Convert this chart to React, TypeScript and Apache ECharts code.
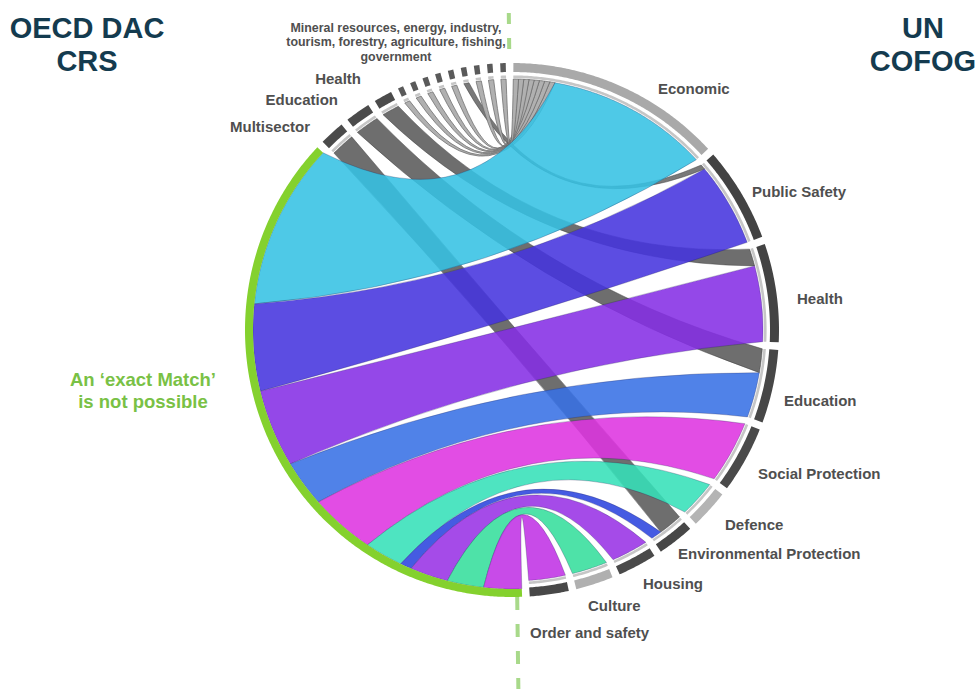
import React, { useEffect, useRef } from "react";
import * as echarts from "echarts";

// ---------------- data ----------------
const cofogNodes = [
  "Economic",
  "Public Safety",
  "Health",
  "Education",
  "Social Protection",
  "Defence",
  "Environmental Protection",
  "Housing",
  "Culture",
  "Order and safety",
];
const crsNodes = [
  "An ‘exact Match’ is not possible",
  "Multisector",
  "Education",
  "Health",
  "Mineral resources",
  "Energy",
  "Industry",
  "Tourism",
  "Forestry",
  "Agriculture",
  "Fishing",
  "Government",
  "Other",
];
// ribbons from "An ‘exact Match’ is not possible" to each COFOG function
const exactMatchValues = [37.5, 19.5, 17.5, 10.5, 14.5, 8.5, 2.5, 8.5, 8.2, 8.5];
// ribbons from CRS sectors to COFOG functions
const sectorLinkSources = [
  "Multisector",
  "Education",
  "Health",
  "Mineral resources",
  "Energy",
  "Industry",
  "Tourism",
  "Forestry",
  "Agriculture",
  "Fishing",
  "Government",
  "Other",
];
const sectorLinkTargets = [
  "Environmental Protection",
  "Education",
  "Health",
  "Economic",
  "Economic",
  "Economic",
  "Economic",
  "Economic",
  "Public Safety",
  "Economic",
  "Economic",
  "Economic",
];
const sectorLinkValues = [5.5, 5.5, 4, 1.2, 1.2, 1.2, 1.2, 1.2, 1.2, 1.2, 1.2, 1.2];

// ---------------- styles ----------------
const exactMatchColors = [
  "#36c2e4",
  "#4634de",
  "#852fe5",
  "#3871e5",
  "#de34e0",
  "#36e0b8",
  "#2b44de",
  "#9932e5",
  "#36de9c",
  "#c032e5",
];
const cofogBandColors = [
  "#a9a9a9",
  "#434343",
  "#434343",
  "#474747",
  "#4a4a4a",
  "#b4b4b4",
  "#474747",
  "#4a4a4a",
  "#b0b0b0",
  "#484848",
];
const crsBandColors = [
  "#84d12e",
  "#4b4b4b",
  "#4b4b4b",
  "#4b4b4b",
  "#5a5a5a",
  "#5a5a5a",
  "#5a5a5a",
  "#5a5a5a",
  "#5a5a5a",
  "#5a5a5a",
  "#5a5a5a",
  "#5a5a5a",
  "#5a5a5a",
];

const FONT = '"Liberation Sans", Arial, Helvetica, sans-serif';
const LABEL_GRAY = "#4f4f4f";

const cofogLabelPos: [number, number][] = [
  [658, 88],
  [752, 191],
  [797, 298],
  [784, 400],
  [758, 473],
  [725, 524],
  [678, 553],
  [643, 583],
  [588, 605],
  [530, 632],
];

// ---------------- layout ----------------
type Ribbon = {
  s: number;
  t: number;
  v: number;
  fill: string;
  stroke: string;
  lw: number;
  op: number;
  layer: number;
  sa0: number;
  sa1: number;
  ta0: number;
  ta1: number;
};

const NR = cofogNodes.length;
const NODE_COUNT = NR + crsNodes.length;
const GREEN = NR;
const PAD = 1.65;
const START = 0.3;

function buildLayout() {
  const ribbons: Ribbon[] = [];
  sectorLinkSources.forEach((src, i) => {
    const s = NR + crsNodes.indexOf(src);
    const t = cofogNodes.indexOf(sectorLinkTargets[i]);
    const small = i >= 3;
    const light = small && sectorLinkTargets[i] === "Economic";
    ribbons.push({
      s,
      t,
      v: sectorLinkValues[i],
      fill: light ? "#acacac" : small ? "#6a6a6a" : "#5e5e5e",
      stroke: light ? "#6c6c6c" : "#3a3a3a",
      lw: light ? 0.8 : 0.5,
      op: light ? 0.95 : 0.9,
      layer: 0,
      sa0: 0,
      sa1: 0,
      ta0: 0,
      ta1: 0,
    });
  });
  exactMatchValues.forEach((v, i) => {
    ribbons.push({
      s: GREEN,
      t: i,
      v,
      fill: exactMatchColors[i],
      stroke: "rgba(30,30,80,0.5)",
      lw: 0.6,
      op: 0.88,
      layer: 1,
      sa0: 0,
      sa1: 0,
      ta0: 0,
      ta1: 0,
    });
  });

  const nodeVal = new Array(NODE_COUNT).fill(0);
  ribbons.forEach((r) => {
    nodeVal[r.s] += r.v;
    nodeVal[r.t] += r.v;
  });
  const nodeStart: number[] = [];
  const nodeEnd: number[] = [];
  let acc = START;
  for (let i = 0; i < NODE_COUNT; i++) {
    nodeStart[i] = acc;
    nodeEnd[i] = acc + nodeVal[i];
    acc = nodeEnd[i] + PAD;
  }
  const total = acc - START;
  const mid = (o: number) => (nodeStart[o] + nodeEnd[o]) / 2;
  for (let n = 0; n < NODE_COUNT; n++) {
    const ends: { k: number; other: number; isS: boolean }[] = [];
    ribbons.forEach((r, k) => {
      if (r.s === n) ends.push({ k, other: r.t, isS: true });
      if (r.t === n) ends.push({ k, other: r.s, isS: false });
    });
    const ccw = (o: number) => (((nodeStart[n] - mid(o)) % total) + total) % total;
    ends.sort((a, b) => ccw(a.other) - ccw(b.other));
    let a = nodeStart[n];
    ends.forEach((e) => {
      const r = ribbons[e.k];
      if (e.isS) {
        r.sa0 = a;
        r.sa1 = a + r.v;
      } else {
        r.ta0 = a;
        r.ta1 = a + r.v;
      }
      a += r.v;
    });
  }
  return { ribbons, nodeStart, nodeEnd, total };
}

const R_RIB = 251;
const R_RIB_GREEN = 259;
const K = 0.47;

function arcPts(api: any, r: number, a0: number, a1: number): number[][] {
  const n = Math.max(2, Math.ceil(Math.abs(a1 - a0) / 0.4) + 1);
  const pts: number[][] = [];
  for (let i = 0; i < n; i++) pts.push(api.coord([r, a0 + ((a1 - a0) * i) / (n - 1)]));
  return pts;
}
const fmt = (p: number[]) => p[0].toFixed(2) + "," + p[1].toFixed(2);

function ribbonPath(api: any, rb: Ribbon) {
  const c = api.coord([0, 0]);
  const rs = rb.s === GREEN ? R_RIB_GREEN : R_RIB;
  const rt = R_RIB;
  const A = arcPts(api, rs, rb.sa0, rb.sa1);
  const B = arcPts(api, rt, rb.ta0, rb.ta1);
  const ctrl = (p: number[], q: number[]) => [
    c[0] + K * ((p[0] + q[0]) / 2 - c[0]),
    c[1] + K * ((p[1] + q[1]) / 2 - c[1]),
  ];
  let d = "M" + fmt(A[0]);
  for (let i = 1; i < A.length; i++) d += "L" + fmt(A[i]);
  d += "Q" + fmt(ctrl(A[A.length - 1], B[0])) + " " + fmt(B[0]);
  for (let i = 1; i < B.length; i++) d += "L" + fmt(B[i]);
  d += "Q" + fmt(ctrl(B[B.length - 1], A[0])) + " " + fmt(A[0]);
  d += "Z";
  return d;
}

function bandPath(api: any, r0: number, r1: number, a0: number, a1: number) {
  const outer = arcPts(api, r1, a0, a1);
  const inner = arcPts(api, r0, a1, a0);
  return "M" + outer.map(fmt).join("L") + "L" + inner.map(fmt).join("L") + "Z";
}

export default function App() {
  const ref = useRef<HTMLDivElement>(null);
  useEffect(() => {
    if (!ref.current) return;
    const chart = echarts.init(ref.current, null, { renderer: "svg" });
    const { ribbons, nodeStart, nodeEnd, total } = buildLayout();
    const grayRibbons = ribbons.filter((r) => r.layer === 0);
    const colorRibbons = ribbons.filter((r) => r.layer === 1);

    const ribbonSeries = (list: Ribbon[], name: string) => ({
      type: "custom",
      name,
      coordinateSystem: "polar",
      silent: true,
      encode: { radius: 0, angle: 1 },
      data: list.map((r, i) => [R_RIB, (r.sa0 + r.sa1) / 2, i]),
      renderItem: (params: any, api: any) => {
        const rb = list[params.dataIndex];
        return {
          type: "path",
          shape: { pathData: ribbonPath(api, rb) },
          style: { fill: rb.fill, stroke: rb.stroke, lineWidth: rb.lw, opacity: rb.op },
        };
      },
    });

    const nodeIdx = Array.from({ length: NODE_COUNT }, (_, i) => i);
    const ringSeries = {
      type: "custom",
      name: "nodes",
      coordinateSystem: "polar",
      silent: true,
      encode: { radius: 0, angle: 1 },
      data: nodeIdx.map((i) => [262, (nodeStart[i] + nodeEnd[i]) / 2, i]),
      renderItem: (params: any, api: any) => {
        const i = params.dataIndex;
        const a0 = nodeStart[i];
        const a1 = nodeEnd[i];
        const color = i < NR ? cofogBandColors[i] : crsBandColors[i - NR];
        if (i === GREEN) {
          return {
            type: "path",
            shape: { pathData: bandPath(api, 259, 267, a0, a1) },
            style: { fill: color },
          };
        }
        const children: any[] = [
          {
            type: "path",
            shape: { pathData: bandPath(api, 252, 254.6, a0, a1) },
            style: { fill: "#c6c6c6" },
          },
          {
            type: "path",
            shape: { pathData: bandPath(api, 258, 267, a0, a1) },
            style: { fill: color },
          },
        ];
        return { type: "group", children };
      },
    };

    const text = (
      t: string,
      x: number,
      y: number,
      font: string,
      fill: string,
      align: string,
      lineHeight?: number
    ) => ({
      type: "text",
      x,
      y,
      silent: true,
      z: 10,
      style: {
        text: t,
        font,
        fill,
        textAlign: align,
        align,
        textVerticalAlign: "middle",
        verticalAlign: "middle",
        lineHeight,
      },
    });

    const labelFont = `bold 15px ${FONT}`;
    const graphics: any[] = [
      {
        type: "line",
        z: -1,
        silent: true,
        shape: { x1: 508.5, y1: -12, x2: 509.3, y2: 57 },
        style: { stroke: "#a8d98a", lineWidth: 4, lineDash: [11, 14] },
      },
      {
        type: "line",
        z: -1,
        silent: true,
        shape: { x1: 517.2, y1: 597, x2: 518.5, y2: 700 },
        style: { stroke: "#a8d98a", lineWidth: 4, lineDash: [13, 14] },
      },
      text("OECD DAC\nCRS", 87, 44, `bold 29px ${FONT}`, "#143b4f", "center", 33),
      text("UN\nCOFOG", 923, 44, `bold 29px ${FONT}`, "#143b4f", "center", 33),
      text(
        "An ‘exact Match’\nis not possible",
        143,
        390,
        `bold 18.5px ${FONT}`,
        "#79c145",
        "center",
        22
      ),
      text(
        "Mineral resources, energy, industry,\ntourism, forestry, agriculture, fishing,\ngovernment",
        396,
        42,
        `bold 12.4px ${FONT}`,
        LABEL_GRAY,
        "center",
        14.5
      ),
      text("Multisector", 310, 126, labelFont, LABEL_GRAY, "right"),
      text("Education", 338, 99, labelFont, LABEL_GRAY, "right"),
      text("Health", 361, 78, labelFont, LABEL_GRAY, "right"),
    ];
    cofogNodes.forEach((name, i) => {
      graphics.push(text(name, cofogLabelPos[i][0], cofogLabelPos[i][1], labelFont, LABEL_GRAY, "left"));
    });

    chart.setOption({
      animation: false,
      backgroundColor: "#ffffff",
      polar: { center: [512, 330], radius: 267 },
      angleAxis: {
        type: "value",
        min: 0,
        max: total,
        startAngle: 90,
        clockwise: true,
        show: false,
      },
      radiusAxis: { type: "value", min: 0, max: 267, show: false },
      series: [
        ribbonSeries(grayRibbons, "sector links"),
        ribbonSeries(colorRibbons, "no exact match links"),
        ringSeries,
      ],
      graphic: graphics,
    });
    return () => chart.dispose();
  }, []);
  return (
    <div
      ref={ref}
      style={{ position: "fixed", left: 0, top: 0, width: 979, height: 689, background: "#fff" }}
    />
  );
}
